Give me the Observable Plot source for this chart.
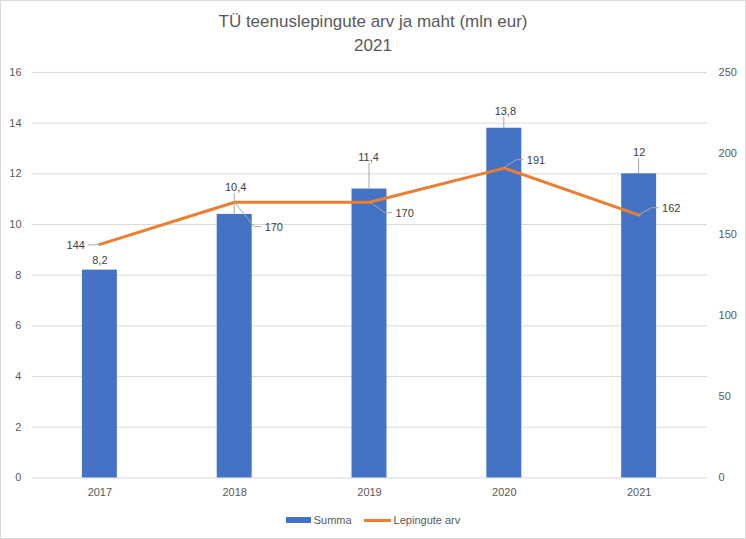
<!DOCTYPE html>
<html>
<head>
<meta charset="utf-8">
<script src="https://cdn.jsdelivr.net/npm/d3@7"></script>
<script src="https://cdn.jsdelivr.net/npm/@observablehq/plot@0.6"></script>
<style>
  body { margin: 0; background: #fff; }
  #frame { position: relative; width: 746px; height: 539px; box-sizing: border-box; border: 1px solid #d9d9d9; font-family: "Liberation Sans", Arial, sans-serif; overflow: hidden; background: #fff; }
  #title { position: absolute; left: -1px; top: 9px; width: 746px; text-align: center; font-size: 17px; line-height: 24px; color: #595959; }
  #chart { position: absolute; left: -1px; top: 59px; }
  #legend { position: absolute; left: -1px; top: 511px; width: 746px; display: flex; justify-content: center; align-items: center; font-size: 11px; color: #595959; height: 16px; }
  .sw { display: inline-block; margin-right: 3px; }
  .item { display: flex; align-items: center; }
</style>
</head>
<body>
<div id="frame">
  <div id="title">TÜ teenuslepingute arv ja maht (mln eur)<br>2021</div>
  <div id="chart"></div>
  <div id="legend"></div>
</div>
<script>
// ---- data ----
const years = ["2017", "2018", "2019", "2020", "2021"];
const summa = [8.2, 10.4, 11.4, 13.8, 12];
const lepingud = [144, 170, 170, 191, 162];
const leftTicks = [0, 2, 4, 6, 8, 10, 12, 14, 16];
const rightTicks = [0, 50, 100, 150, 200, 250];
const seriesNames = ["Summa", "Lepingute arv"];

// ---- styling ----
const BLUE = "#4472C4", ORANGE = "#ED7D31", GRID = "#d9d9d9", AXIS = "#595959", LABEL = "#404040", LEADER = "#a6a6a6";
const k = 16 / 250; // right axis -> left axis units
// label placement (pixels) relative to bar top / line point
const barLabelOff = [[0, -10], [1, -27], [-1, -32], [1, -17], [0, -21.5]];
const lineLabelOff = [[-15, 1, "end"], [30, 25, "start"], [26, 11, "start"], [22.5, -8, "start"], [23, -7, "start"]];

const data = years.map((y, i) => ({year: y, summa: summa[i], lep: lepingud[i], lepScaled: lepingud[i] * k, i}));
const fmt = v => String(v).replace(".", ",");

function leaders(index, scales) {
  const sx = scales.x, sy = scales.y;
  const bw = typeof sx.bandwidth === "function" ? sx.bandwidth() : 0;
  const g = d3.create("svg:g").attr("fill", "none").attr("stroke", LEADER).attr("stroke-width", 1);
  data.forEach((d, i) => {
    const cx = sx(d.year) + bw / 2;
    // bar label leader
    const top = sy(d.summa);
    const [bdx, bdy] = barLabelOff[i];
    if (Math.abs(bdy) > 12) {
      g.append("line").attr("x1", cx).attr("x2", cx).attr("y1", top + bdy + 6).attr("y2", top);
    }
    // line label leader
    const py = sy(d.lepScaled);
    const [ldx, ldy, anchor] = lineLabelOff[i];
    const s = anchor === "start" ? 1 : -1;
    const tx = cx + ldx, ty = py + ldy;
    g.append("polyline").attr("points", `${cx},${py} ${tx - s * 10},${ty} ${tx - s * 3},${ty}`);
  });
  return g.node();
}

const barLabelMarks = data.map((d, i) => Plot.text([d], {
  x: "year", y: "summa", text: d => fmt(d.summa),
  dx: barLabelOff[i][0], dy: barLabelOff[i][1], lineAnchor: "middle",
  fill: LABEL, fontSize: 11
}));
const lineLabelMarks = data.map((d, i) => Plot.text([d], {
  x: "year", y: "lepScaled", text: d => String(d.lep),
  dx: lineLabelOff[i][0], dy: lineLabelOff[i][1], textAnchor: lineLabelOff[i][2], lineAnchor: "middle",
  fill: LABEL, fontSize: 11
}));

const chart = Plot.plot({
  width: 746,
  height: 445,
  marginTop: 12,
  marginBottom: 27,
  marginLeft: 32,
  marginRight: 38,
  style: {fontFamily: "'Liberation Sans', Arial, sans-serif", fontSize: "11px", color: AXIS, background: "transparent", overflow: "visible"},
  x: {type: "band", domain: years, paddingInner: 0.74, paddingOuter: 0.37, label: null},
  y: {domain: [0, 16], label: null},
  marks: [
    Plot.gridY(leftTicks, {stroke: GRID, strokeOpacity: 1, strokeWidth: 1}),
    Plot.barY(data, {x: "year", y: "summa", fill: BLUE}),
    Plot.line(data, {x: "year", y: "lepScaled", stroke: ORANGE, strokeWidth: 3, strokeLinejoin: "round", strokeLinecap: "round"}),
    leaders,
    ...barLabelMarks,
    ...lineLabelMarks,
    Plot.axisY(leftTicks, {anchor: "left", tickSize: 0, tickPadding: 11, label: null, color: AXIS, fontSize: 11}),
    Plot.axisY(rightTicks.map(v => v * k), {anchor: "right", tickSize: 0, tickPadding: 11, label: null, tickFormat: d => String(Math.round(d / k)), color: AXIS, fontSize: 11}),
    Plot.axisX({tickSize: 0, tickPadding: 10, label: null, color: AXIS, fontSize: 11})
  ]
});
document.getElementById("chart").appendChild(chart);

// legend
const legend = document.getElementById("legend");
const swatches = [
  `<span class="sw" style="width:25px;height:6px;background:${BLUE}"></span>`,
  `<span class="sw" style="width:27px;height:3px;background:${ORANGE}"></span>`
];
seriesNames.forEach((name, i) => {
  const it = document.createElement("span");
  it.className = "item";
  if (i > 0) it.style.marginLeft = "12px";
  it.innerHTML = swatches[i] + `<span>${name}</span>`;
  legend.appendChild(it);
});
</script>
</body>
</html>
